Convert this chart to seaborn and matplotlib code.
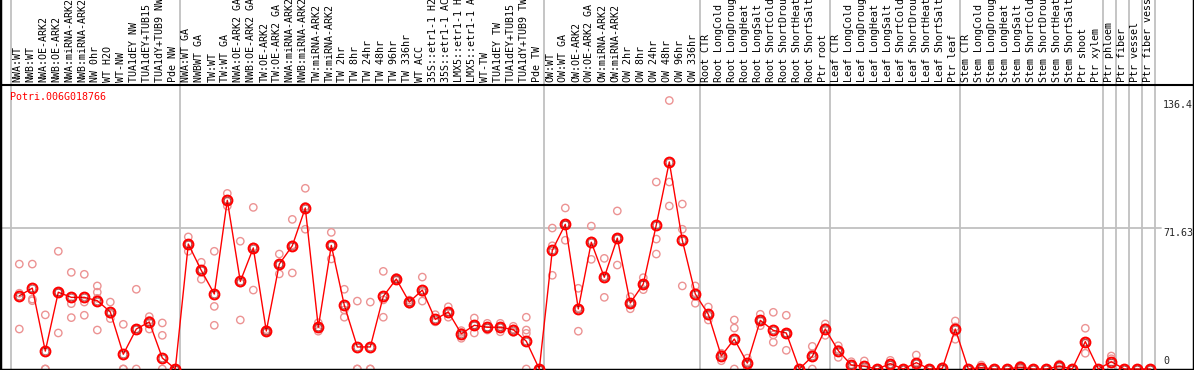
import pandas as pd
import matplotlib
matplotlib.use("Agg")
import matplotlib.pyplot as plt
import seaborn as sns

gene = "Potri.006G018766"

samples = [
    "NWA:WT", "NWB:WT", "NWA:OE-ARK2", "NWB:OE-ARK2", "NWA:miRNA-ARK2", "NWB:miRNA-ARK2",
    "NW 0hr", "WT H2O", "WT-NW", "TUA1dEY NW", "TUA1dEY+TUB15 NW", "TUA1dY+TUB9 NW", "Pde NW",
    "NWA:WT GA", "NWBWT GA", "TW:WT", "TW:WT GA", "NWA:OE-ARK2 GA", "NWB:OE-ARK2 GA",
    "TW:OE-ARK2", "TW:OE-ARK2 GA", "NWA:miRNA-ARK2 GA", "NWB:miRNA-ARK2 GA", "TW:miRNA-ARK2",
    "TW:miRNA-ARK2", "TW 2hr", "TW 8hr", "TW 24hr", "TW 48hr", "TW 96hr", "TW 336hr", "WT ACC",
    "35S::etr1-1 H2O", "35S::etr1-1 ACC", "LMX5::etr1-1 H2O", "LMX5::etr1-1 ACC", "WT-TW",
    "TUA1dEY TW", "TUA1dEY+TUB15 TW", "TUA1dY+TUB9 TW", "Pde TW",
    "OW:WT", "OW:WT GA", "OW:OE-ARK2", "OW:OE-ARK2 GA", "OW:miRNA-ARK2", "OW:miRNA-ARK2",
    "OW 2hr", "OW 8hr", "OW 24hr", "OW 48hr", "OW 96hr", "OW 336hr",
    "Root CTR", "Root LongCold", "Root LongDrought", "Root LongHeat", "Root LongSalt",
    "Root ShortCold", "Root ShortDrought", "Root ShortHeat", "Root ShortSalt", "Ptr root",
    "Leaf CTR", "Leaf LongCold", "Leaf LongDrought", "Leaf LongHeat", "Leaf LongSalt",
    "Leaf ShortCold", "Leaf ShortDrought", "Leaf ShortHeat", "Leaf ShortSalt", "Ptr leaf",
    "Stem CTR", "Stem LongCold", "Stem LongDrought", "Stem LongHeat", "Stem LongSalt",
    "Stem ShortCold", "Stem ShortDrought", "Stem ShortHeat", "Stem ShortSalt", "Ptr shoot",
    "Ptr xylem", "Ptr phloem", "Ptr fiber", "Ptr vessel", "Ptr fiber vessel",
]

mean_expr = [
    37.2, 41.1, 9.1, 39.0, 36.4, 36.4, 34.7, 29.0, 7.5, 20.3, 23.9, 5.6, 0,
    63.5, 50.1, 38.1, 85.7, 44.5, 61.5, 19.3, 53.3, 62.6, 81.8, 21.2, 62.8, 32.4, 11.2,
    11.2, 36.9, 45.7, 34.0, 40.1, 25.2, 29.0, 17.9, 22.2, 21.2, 21.2, 20.0, 14.1, 0,
    60.3, 73.5, 30.5, 64.4, 46.6, 66.5, 33.5, 43.2, 73.2, 105.2, 65.4, 38.1,
    27.8, 6.6, 15.2, 3.0, 24.7, 19.6, 18.3, 0, 6.4, 20.3,
    9.3, 2.0, 1.4, 0, 2.7, 0, 3.2, 0, 0.3, 20.3,
    0, 0.7, 0, 0, 0.9, 0, 0, 1.4, 0, 13.9,
    0, 3.7, 0, 0, 0,
]

replicates = [
    [53.3, 38.5, 20.3], [53.3, 35.5, 34.7], [27.5, 0, 0], [59.8, 38.9, 18.3],
    [49.1, 33.2, 26.1], [48.1, 34.0, 27.3], [42.2, 39.0, 35.9, 19.8], [34.0, 27.9, 25.6],
    [22.7, 0, 0], [40.5, 20.4, 0], [26.6, 24.7, 20.3], [23.4, 17.1, 0], [0, 0, 0],
    [67.1, 63.6, 59.8], [54.2, 50.5, 45.6], [59.8, 31.8, 22.2], [89.2, 85.1, 82.8],
    [64.9, 43.7, 24.9], [82.1, 62.0, 40.1], [20.0, 19.3, 18.6], [58.4, 53.2, 48.3],
    [76.0, 63.0, 48.8], [91.8, 82.6, 71.0], [23.5, 21.0, 19.2], [69.4, 63.0, 55.9],
    [40.5, 30.0, 26.3], [34.5, 0, 0], [34.0, 0, 0], [49.6, 35.1, 26.3], [46.5, 45.7, 45.0],
    [35.0, 34.0, 32.9], [46.7, 39.0, 34.5], [27.6, 24.0, 24.0], [31.6, 29.0, 26.3],
    [19.5, 18.6, 15.6], [25.9, 22.4, 18.3], [23.2, 21.0, 19.8], [23.2, 21.5, 18.9],
    [21.7, 20.3, 18.6], [26.3, 19.8, 18.1, 0], [0, 0, 0],
    [71.6, 62.6, 47.6], [81.8, 73.3, 65.4], [41.0, 31.0, 19.2], [72.6, 65.0, 55.7],
    [56.2, 47.0, 36.4], [80.3, 66.5, 52.8], [36.7, 33.0, 30.6], [46.4, 43.0, 40.3],
    [95.0, 66.0, 58.4], [136.4, 95.0, 82.8], [83.8, 71.0, 42.2], [42.2, 38.7, 33.4],
    [31.5, 27.0, 24.9], [8.0, 7.6, 4.2], [24.9, 20.8, 0], [5.5, 3.5, 0], [27.8, 24.4, 22.0],
    [28.8, 17.3, 13.6], [27.3, 18.0, 9.5], [0, 0, 0], [11.5, 7.7, 0], [22.9, 21.0, 17.1],
    [11.8, 10.0, 5.9], [3.7, 2.3, 0], [4.1, 0, 0], [0, 0, 0], [4.4, 2.0, 0], [0, 0, 0],
    [7.1, 3.0, 0], [0, 0, 0], [1.0, 0, 0], [24.4, 21.4, 15.1],
    [0, 0, 0], [2.0, 0, 0], [0, 0, 0], [0, 0, 0], [1.9, 0.8, 0], [0, 0, 0], [0, 0, 0],
    [2.5, 1.5, 0], [0, 0, 0], [20.7, 13.0, 8.0],
    [0, 0, 0], [6.6, 5.2, 0], [0, 0, 0], [0, 0, 0], [0, 0, 0],
]

# index of first sample in each block (last entry = end)
group_starts = [0, 13, 41, 53, 63, 73, 84, 85, 86, 87, 88]
axis_ticks = [136.4, 71.63, 0]

sns.set_style("white")
plt.rcParams["font.family"] = ["DejaVu Sans Mono"]

pos = list(range(len(samples)))
mean_df = pd.DataFrame({"pos": pos, "expr": mean_expr})
rep_df = pd.DataFrame(
    [(i, v) for i, reps in enumerate(replicates) for v in reps], columns=["pos", "expr"]
)

W, H = 1194, 370
fig = plt.figure(figsize=(W / 100, H / 100), dpi=100)
ax = fig.add_axes([0, 0, 1, 1])

# pixel layout of the reference: x = 19.3 + 13 * pos, y(0) = 369, 1.9685 px per unit
px_step, px_x0, px_y0, px_unit = 13.0, 19.3, 369.0, 1.9685
ax.set_xlim((0 - px_x0) / px_step, (W - px_x0) / px_step)
ax.set_ylim((px_y0 - H) / px_unit, px_y0 / px_unit)
plot_top = (px_y0 - 85) / px_unit

for g in group_starts:
    ax.axvline(g - 0.615, color="#c0c0c0", lw=1.3, zorder=0)
ax.axhline(71.63, xmax=0.972, color="#c0c0c0", lw=1.3, zorder=0)
ax.axhline(plot_top, color="black", lw=1.5, zorder=1)

sns.scatterplot(data=rep_df, x="pos", y="expr", ax=ax, marker="o", s=28,
                facecolors="none", edgecolor="#ec9393", linewidth=1.0, zorder=2)
sns.lineplot(data=mean_df, x="pos", y="expr", ax=ax, color="red", lw=1.0, sort=False,
             marker="o", markersize=7, markerfacecolor="none", markeredgecolor="red",
             markeredgewidth=1.5, zorder=3)
ax.plot(mean_df["pos"], mean_df["expr"], ls="none", marker="o", markersize=4.8,
        markerfacecolor="none", markeredgecolor="#700000", markeredgewidth=0.35, zorder=4)

for i, name in enumerate(samples):
    ax.text(i - 0.15, plot_top + 1.6, name, rotation=90, ha="center", va="bottom",
            fontsize=7.2, color="black")

ax.text((10 - px_x0) / px_step, (px_y0 - 92) / px_unit, gene, color="red",
        fontsize=7.2, ha="left", va="top")

tick_x = (1163 - px_x0) / px_step
ax.text(tick_x, axis_ticks[0], "136.4", fontsize=7.2, ha="left", va="top")
ax.text(tick_x, axis_ticks[1], "71.63", fontsize=7.2, ha="left", va="top")
ax.text(tick_x, 1.6, "0", fontsize=7.2, ha="left", va="bottom")

ax.set_xticks([])
ax.set_yticks([])
ax.set_xlabel("")
ax.set_ylabel("")
for side in ["left", "right", "bottom"]:
    ax.spines[side].set_color("black")
    ax.spines[side].set_linewidth(2.5)
ax.spines["top"].set_visible(False)

fig.savefig("out.png", dpi=100)
plt.close(fig)
